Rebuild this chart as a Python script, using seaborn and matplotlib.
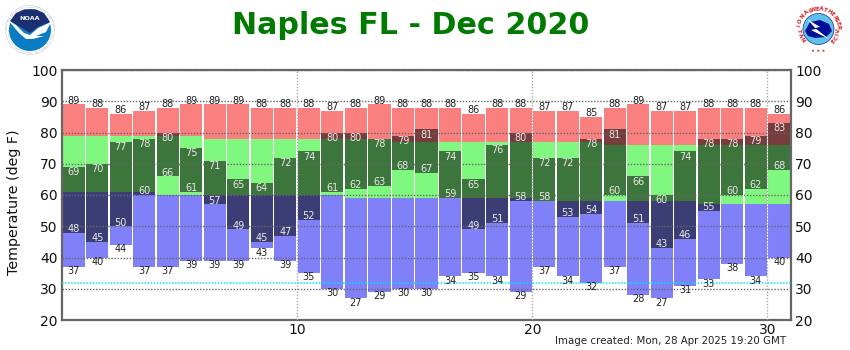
import numpy as np
import pandas as pd
import seaborn as sns
import matplotlib.pyplot as plt
from matplotlib.patches import Circle, Polygon

days = np.arange(1, 32)
record_high = [89, 88, 86, 87, 88, 89, 89, 89, 88, 88, 88, 87, 88, 89, 88, 88, 88, 86, 88, 88, 87, 87, 85, 88, 89, 87, 87, 88, 88, 88, 86]
normal_high = [79, 79, 79, 79, 79, 79, 78, 78, 78, 78, 78, 78, 78, 78, 77, 77, 77, 77, 77, 77, 77, 77, 77, 76, 76, 76, 76, 76, 76, 76, 76]
normal_low = [61, 61, 61, 61, 60, 60, 60, 60, 60, 60, 60, 60, 59, 59, 59, 59, 59, 59, 59, 59, 58, 58, 58, 58, 58, 58, 58, 57, 57, 57, 57]
record_low = [37, 40, 44, 37, 37, 39, 39, 39, 43, 39, 35, 30, 27, 29, 30, 30, 34, 35, 34, 29, 37, 34, 32, 37, 28, 27, 31, 33, 38, 34, 40]
actual_high = [69, 70, 77, 78, 80, 75, 71, 65, 64, 72, 74, 80, 80, 78, 79, 81, 74, 65, 76, 80, 72, 72, 78, 81, 66, 60, 74, 78, 78, 79, 83]
actual_low = [48, 45, 50, 60, 66, 61, 57, 49, 45, 47, 52, 61, 62, 63, 68, 67, 59, 49, 51, 58, 58, 53, 54, 60, 51, 43, 46, 55, 60, 62, 68]
freezing = 32

df = pd.DataFrame({'day': days - 0.5, 'rh': record_high, 'nh': normal_high, 'nl': normal_low,
                   'rl': record_low, 'ah': actual_high, 'al': actual_low})

sns.set_style('white')
plt.rcParams['font.family'] = ['DejaVu Sans']

fig = plt.figure(figsize=(8.5, 3.5), dpi=100)
ax = fig.add_axes([62 / 850, 30 / 350, 729 / 850, 250 / 350])


def band(top, bottom, color, **kw):
    sns.barplot(x=df['day'], y=np.array(top) - np.array(bottom), bottom=bottom, ax=ax, native_scale=True,
                color=color, saturation=1, width=0.94, errorbar=None, linewidth=0, **kw)


band(df['rh'], df['nh'], '#fa8080')
band(df['nh'], df['nl'], '#80f880')
band(df['nl'], df['rl'], '#8080f8')
band(df['ah'], df['al'], '#000000', alpha=0.52)

ax.set_xlim(0, 31)
ax.set_ylim(20, 100)
ax.set_xticks([10, 20, 30])
ax.set_xticklabels(['10', '20', '30'])
ax.set_yticks(range(20, 101, 10))
ax.set_xlabel('')
ax.set_ylabel('Temperature (deg F)', fontsize=10.3, color='#111111')
ax.yaxis.set_label_coords(-0.056, 0.472)
ax.tick_params(axis='both', labelsize=10, length=0, pad=3, labelcolor='#111111')
ax.tick_params(axis='y', labelright=True, right=False)
ax.tick_params(axis='x', pad=2)

ax.set_axisbelow(False)
ax.grid(True, color='#666666', linestyle=(0, (1, 1.2)), linewidth=1, zorder=5)
ax.grid(False, axis='x')
for v in [10, 20, 30]:
    ax.axvline(v, color='#aaaaaa', linestyle=(0, (1, 1.2)), linewidth=1, zorder=5)
ax.axhline(freezing, color='#00e8f0', linestyle=(0, (1, 1)), linewidth=1.1, zorder=5)

for s in ax.spines.values():
    s.set_color('#666666')
    s.set_linewidth(1.6)

for i, d in enumerate(df['day']):
    ax.text(d, record_high[i] + 1.2, str(record_high[i]), ha='center', va='center', fontsize=7, color='#222222', zorder=6)
    ax.text(d, record_low[i] - 1.4, str(record_low[i]), ha='center', va='center', fontsize=7, color='#222222', zorder=6)
    ax.text(d, actual_high[i] - 1.7, str(actual_high[i]), ha='center', va='center', fontsize=7, color='#e8e8e8', zorder=6)
    ax.text(d, actual_low[i] + 1.2, str(actual_low[i]), ha='center', va='center', fontsize=7, color='#e8e8e8', zorder=6)

fig.text(411 / 850, 1 - 25 / 350, 'Naples FL - Dec 2020', ha='center', va='center', fontsize=21.7,
         fontweight='bold', color='#007a00')
fig.text(786 / 850, 1 - 341 / 350, 'Image created: Mon, 28 Apr 2025 19:20 GMT', ha='right', va='center',
         fontsize=7.4, color='#222222')

# logos, drawn in pixel coordinates on a see-through overlay
ov = fig.add_axes([0, 0, 1, 1], zorder=10)
ov.set_xlim(0, 850)
ov.set_ylim(350, 0)
ov.axis('off')
ov.patch.set_alpha(0)


def ring_text(cx, cy, r, text, start, end, size, color, weight='normal'):
    # letters placed one by one along a circle, angles in degrees clockwise from the top
    for ch, a in zip(text, np.linspace(start, end, len(text))):
        t = np.radians(a)
        ov.text(cx + r * np.sin(t), cy - r * np.cos(t), ch, fontsize=size, color=color, fontweight=weight,
                ha='center', va='center', rotation=-a if abs(a) <= 90 else 180 - a)


# NOAA
nx, ny = 30, 30
ov.add_patch(Circle((nx, ny), 24.5, fc='white', ec='#c5ccd4', lw=0.4))
ov.add_patch(Circle((nx, ny), 21, fc='#0a7cc4', ec='none'))
ov.add_patch(Polygon([[10, 21], [16, 13], [24, 9.5], [36, 9.5], [44, 13], [50, 22], [38, 27], [30, 33], [22, 28]],
                     fc='#1b2f73', ec='none'))
ov.add_patch(Polygon([[8, 20], [16, 25], [24, 33], [30, 35], [38, 28], [51, 22], [46, 32], [36, 36], [44, 36],
                      [33, 39], [26, 39], [19, 33]], fc='white', ec='none'))
ov.text(nx, 19, 'NOAA', fontsize=4.6, color='white', fontweight='bold', ha='center', va='center')
ring_text(nx, ny, 23, 'NATIONAL OCEANIC AND ATMOSPHERIC ADMINISTRATION', -110, 110, 1.7, '#8896a5')
ring_text(nx, ny, 23, 'U.S. DEPARTMENT OF COMMERCE', -120, -240, 1.7, '#8896a5')

# NWS
wx, wy = 818.5, 29
ov.add_patch(Circle((wx, wy), 15.5, fc='#5fc0ec', ec='#1c2f8f', lw=0.5))
ov.add_patch(Polygon([[805, 31], [810, 22], [820, 20], [829, 24], [832, 31], [826, 37], [815, 38], [808, 36]],
                     fc='#000f96', ec='none'))
ov.add_patch(Polygon([[807, 19], [820, 27], [815, 28], [829, 39], [811, 30], [816, 29]], fc='white', ec='none'))
ring_text(wx, wy, 20, 'NATIONAL', -125, -22, 4.1, '#d8202a', 'bold')
ring_text(wx, wy, 20, 'WEATHER', -15, 55, 4.1, '#d8202a', 'bold')
ring_text(wx, wy, 20, 'SERVICE', 62, 130, 4.1, '#d8202a', 'bold')
ov.text(wx, 50.5, '★ ★ ★', fontsize=3.2, color='#d8202a', ha='center', va='center')

fig.savefig('out.png', dpi=100)
